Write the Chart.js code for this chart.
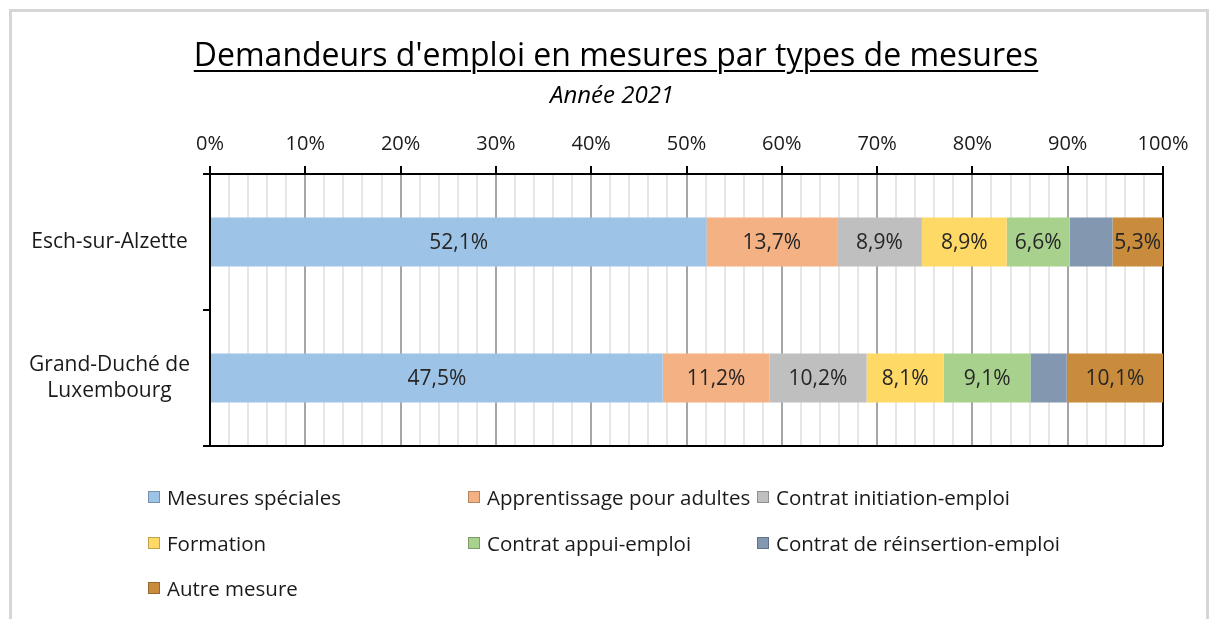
<!DOCTYPE html>
<html lang="fr">
  <head>
    <meta charset="UTF-8" />
    <title>Demandeurs d'emploi en mesures par types de mesures</title>
    <script src="https://cdn.jsdelivr.net/npm/chart.js"></script>
    <style>
      body {
        margin: 0;
        background: #fff;
        font-family: "Open Sans", sans-serif;
        overflow: hidden;
      }
      .wrap {
        position: relative;
        width: 1215px;
        height: 619px;
      }
      .frame {
        position: absolute;
        left: 9px;
        top: 9px;
        width: 1194px;
        height: 640px;
        border: 3px solid #d6d6d6;
        pointer-events: none;
      }
      canvas {
        position: absolute;
        left: 0;
        top: 0;
      }
      .title,
      .subtitle {
        position: absolute;
        left: 0;
        text-align: center;
        color: #000;
        white-space: nowrap;
      }
      .title {
        top: 35px;
        width: 1232px;
        font-size: 32px;
        line-height: 38px;
      }
      .title span {
        text-decoration: underline;
        text-decoration-thickness: 2px;
        text-underline-offset: 4px;
      }
      .subtitle {
        top: 79px;
        width: 1224px;
        font-size: 24px;
        line-height: 29px;
        font-style: italic;
      }
      .legend {
        position: absolute;
        left: 0;
        top: 0;
        width: 1215px;
        height: 619px;
        pointer-events: none;
      }
      .legend .item {
        position: absolute;
        display: flex;
        align-items: center;
        font-size: 20.5px;
        color: #1a1a1a;
        white-space: nowrap;
      }
      .legend .box {
        width: 12px;
        height: 12px;
        margin-right: 7px;
        box-sizing: border-box;
        border: 1px solid rgba(0, 0, 0, 0.25);
      }
    </style>
  </head>
  <body>
    <div class="wrap">
      <canvas id="barChart" width="1215" height="619"></canvas>
      <div class="title"><span>Demandeurs d'emploi en mesures par types de mesures</span></div>
      <div class="subtitle">Année 2021</div>
      <div class="legend" id="legend"></div>
      <div class="frame"></div>
    </div>

    <script>
      const categories = ["Esch-sur-Alzette", ["Grand-Duché de", "Luxembourg"]];
      const seriesNames = [
        "Mesures spéciales",
        "Apprentissage pour adultes",
        "Contrat initiation-emploi",
        "Formation",
        "Contrat appui-emploi",
        "Contrat de réinsertion-emploi",
        "Autre mesure"
      ];
      const eschValues = [52.1, 13.7, 8.9, 8.9, 6.6, 4.5, 5.3];
      const luxValues = [47.5, 11.2, 10.2, 8.1, 9.1, 3.8, 10.1];
      const showLabel = [true, true, true, true, true, false, true];
      const colors = ["#9dc3e6", "#f4b183", "#bfbfbf", "#ffd966", "#a9d18e", "#8497b0", "#c98b3c"];
      const tickValues = [0, 10, 20, 30, 40, 50, 60, 70, 80, 90, 100];

      const FONT = "'Open Sans', sans-serif";

      const datasets = seriesNames.map((name, i) => ({
        label: name,
        data: [eschValues[i], luxValues[i]],
        backgroundColor: colors[i],
        borderWidth: 0,
        showValue: showLabel[i]
      }));

      // valeurs au centre des segments
      const valueLabels = {
        id: "valueLabels",
        afterDatasetsDraw(chart) {
          const ctx = chart.ctx;
          ctx.save();
          ctx.font = "21px " + FONT;
          ctx.fillStyle = "#262626";
          ctx.textAlign = "center";
          ctx.textBaseline = "middle";
          chart.data.datasets.forEach((ds, i) => {
            if (!ds.showValue) return;
            chart.getDatasetMeta(i).data.forEach((bar, j) => {
              const p = bar.getProps(["x", "y", "base"], true);
              const txt = ds.data[j].toFixed(1).replace(".", ",") + "%";
              ctx.fillText(txt, (p.x + p.base) / 2, p.y + 1);
            });
          });
          ctx.restore();
        }
      };

      new Chart(document.getElementById("barChart"), {
        type: "bar",
        data: { labels: categories, datasets: datasets },
        options: {
          indexAxis: "y",
          responsive: false,
          animation: false,
          devicePixelRatio: 1,
          layout: { padding: { top: 107, left: 0, right: 52, bottom: 173 } },
          datasets: { bar: { categoryPercentage: 1, barPercentage: 0.36 } },
          plugins: {
            legend: { display: false },
            tooltip: { enabled: false }
          },
          scales: {
            x: {
              position: "top",
              stacked: true,
              min: 0,
              max: 100,
              afterFit(scale) {
                scale.height = 67;
              },
              ticks: {
                stepSize: 2,
                autoSkip: false,
                maxRotation: 0,
                padding: 10,
                color: "#1a1a1a",
                font: { family: FONT, size: 20 },
                callback: v => (tickValues.includes(v) ? v + "%" : "")
              },
              grid: {
                lineWidth: 2,
                tickLength: 8,
                color: ctx => {
                  const v = ctx.tick ? ctx.tick.value : 0;
                  if (v === 100) return "#000";
                  return tickValues.includes(v) ? "#a6a6a6" : "#e6e6e6";
                },
                tickColor: ctx => (ctx.tick && tickValues.includes(ctx.tick.value) ? "#000" : "rgba(0,0,0,0)")
              },
              border: { display: true, color: "#000", width: 2 }
            },
            y: {
              stacked: true,
              afterFit(scale) {
                scale.width = 210;
              },
              ticks: {
                padding: 13,
                crossAlign: "center",
                color: "#1a1a1a",
                font: { family: FONT, size: 21 }
              },
              grid: {
                offset: true,
                lineWidth: 2,
                tickLength: 7,
                color: ctx => (ctx.index === 1 ? "rgba(0,0,0,0)" : "#000"),
                tickColor: "#000"
              },
              border: { display: true, color: "#000", width: 2 }
            }
          }
        },
        plugins: [valueLabels]
      });

      // légende en trois colonnes
      const legendCols = [148, 468, 757];
      const legendRows = [498, 544, 589];
      const legendEl = document.getElementById("legend");
      seriesNames.forEach((name, i) => {
        const item = document.createElement("div");
        item.className = "item";
        item.style.left = legendCols[i % 3] + "px";
        item.style.top = legendRows[Math.floor(i / 3)] - 15 + "px";
        item.innerHTML = '<span class="box" style="background:' + colors[i] + '"></span>' + name;
        legendEl.appendChild(item);
      });
    </script>
  </body>
</html>
